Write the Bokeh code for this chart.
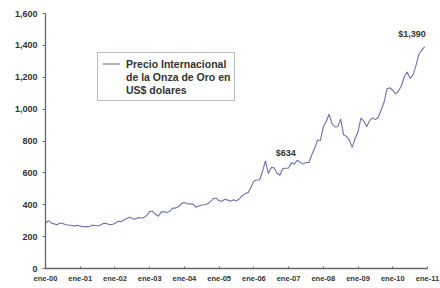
from bokeh.plotting import figure
from bokeh.models import Legend, LegendItem, Label, NumeralTickFormatter, FixedTicker, ColumnDataSource
from bokeh.embed import file_html
from bokeh.resources import INLINE

# Monthly gold price (US$/oz), Jan 2000 - Dec 2010
p2000 = [284, 300, 286, 280, 275, 285, 282, 274, 273, 270, 266, 272]
p2001 = [266, 262, 263, 261, 272, 270, 268, 273, 283, 283, 276, 276]
p2002 = [282, 296, 294, 303, 314, 322, 314, 310, 319, 317, 319, 333]
p2003 = [357, 359, 340, 328, 355, 356, 351, 360, 379, 379, 389, 407]
p2004 = [414, 405, 406, 404, 384, 392, 398, 400, 406, 420, 439, 442]
p2005 = [424, 423, 434, 429, 422, 431, 424, 438, 457, 470, 476, 510]
p2006 = [549, 555, 557, 610, 676, 596, 633, 632, 598, 585, 627, 629]
p2007 = [631, 664, 655, 679, 667, 655, 665, 665, 712, 754, 806, 803]
p2008 = [889, 922, 968, 909, 888, 889, 939, 839, 829, 806, 760, 816]
p2009 = [858, 943, 924, 890, 928, 945, 934, 949, 996, 1043, 1127, 1134]
p2010 = [1118, 1095, 1113, 1148, 1205, 1233, 1193, 1215, 1271, 1343, 1370, 1391]

years = list(range(2000, 2012))
year_labels = ["ene-00", "ene-01", "ene-02", "ene-03", "ene-04", "ene-05",
               "ene-06", "ene-07", "ene-08", "ene-09", "ene-10", "ene-11"]
y_ticks = [0, 200, 400, 600, 800, 1000, 1200, 1400, 1600]

series_lines = ["Precio Internacional", "de la Onza de Oro en", "US$ dolares"]
ann1_text, ann1_x, ann1_y = "$634", 2006.92, 723
ann2_text, ann2_x, ann2_y = "$1,390", 2010.95, 1470

prices = p2000 + p2001 + p2002 + p2003 + p2004 + p2005 + p2006 + p2007 + p2008 + p2009 + p2010
xs = [2000 + i / 12 for i in range(len(prices))]
src = ColumnDataSource(dict(x=xs, y=prices))

FONT = "Liberation Sans"
TXT = "#333333"
AX = "#666666"

p = figure(width=440, height=288, output_backend="svg", toolbar_location=None,
           x_range=(2000, 2011), y_range=(0, 1600),
           min_border_left=45, min_border_right=13, min_border_top=13, min_border_bottom=20)
p.outline_line_color = None
p.xgrid.grid_line_color = None
p.ygrid.grid_line_color = None
p.background_fill_color = "white"

r = p.line("x", "y", source=src, line_color="#7070ae", line_width=1.1)
blank = p.line([], [], line_alpha=0)

p.xaxis.ticker = FixedTicker(ticks=years)
p.xaxis.major_label_overrides = {y: l for y, l in zip(years, year_labels)}
p.yaxis.ticker = FixedTicker(ticks=y_ticks)
p.yaxis.formatter = NumeralTickFormatter(format="0,0")
for ax in (p.xaxis, p.yaxis):
    ax.axis_line_color = AX
    ax.axis_line_width = 1.3
    ax.major_tick_line_color = AX
    ax.minor_tick_line_color = None
    ax.major_label_text_font = FONT
    ax.major_label_text_font_style = "bold"
    ax.major_label_text_color = TXT
p.xaxis.major_tick_in = 2
p.xaxis.major_tick_out = 0
p.xaxis.major_label_standoff = 5
p.xaxis.major_label_text_font_size = "7.5px"
p.yaxis.major_tick_in = 0
p.yaxis.major_tick_out = 3
p.yaxis.major_label_standoff = 5
p.yaxis.major_label_text_font_size = "9px"

items = [LegendItem(label=series_lines[0], renderers=[r])]
items += [LegendItem(label=t, renderers=[blank]) for t in series_lines[1:]]
legend = Legend(items=items,
                location=(52, 167), orientation="vertical",
                border_line_color="#777777", border_line_width=1.5,
                background_fill_alpha=1, padding=4, margin=0, spacing=0,
                glyph_width=18, glyph_height=13, label_standoff=6, label_height=13,
                label_text_font=FONT, label_text_font_style="bold",
                label_text_font_size="10.5px", label_text_color=TXT,
                label_text_line_height=1.2)
p.add_layout(legend)

for t, x, y, align in ((ann1_text, ann1_x, ann1_y, "center"), (ann2_text, ann2_x, ann2_y, "right")):
    p.add_layout(Label(x=x, y=y, text=t, text_font=FONT, text_font_style="bold",
                       text_font_size="9px", text_color=TXT, text_align=align,
                       text_baseline="middle"))

open("out.html", "w").write(file_html(p, INLINE))
